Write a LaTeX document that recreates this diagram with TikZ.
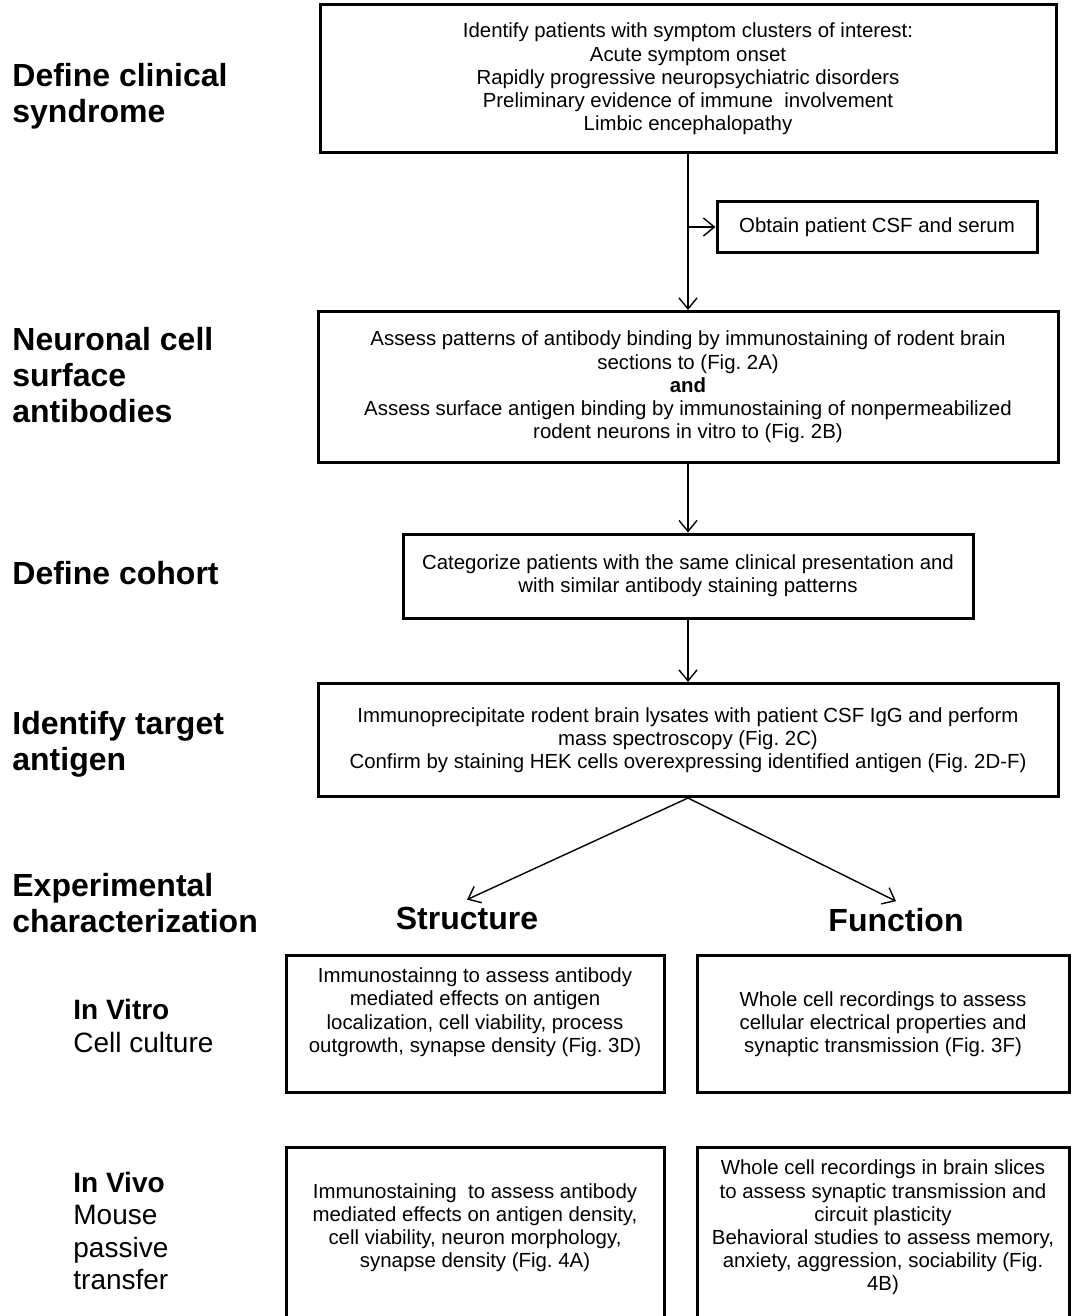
\documentclass[tikz,border=0pt]{standalone}
\usepackage{fontspec}
\setmainfont{Liberation Sans}
\frenchspacing
\usetikzlibrary{positioning,arrows.meta}
\tikzset{flow/.style={x=0.5pt,y=-0.5pt}}
\tikzset{stepbox/.style={draw,line width=1.5pt,align=center,inner sep=0pt,font=\fontsize{10.2}{11.6}\selectfont}}
\tikzset{stage/.style={anchor=west,align=left,inner sep=0pt,font=\fontsize{16}{18}\selectfont\bfseries}}
\tikzset{model/.style={anchor=west,align=left,inner sep=0pt,font=\fontsize{14}{16.2}\selectfont}}
\tikzset{branch/.style={font=\fontsize{16}{18}\selectfont\bfseries}}
\tikzset{link/.style={-{Straight Barb[length=5.5pt,width=9pt]},line width=0.7pt}}

\begin{document}
\begin{tikzpicture}[flow]
  \useasboundingbox (0,0) rectangle (1075,1316);
  \clip (0,0) rectangle (1075,1316);
  % stages on the left
  \node[stage] (lclin) at (12,96) {Define clinical\\syndrome};
  \node[stage] (lsurf) at (12,375) {Neuronal cell\\surface\\antibodies};
  \node[stage] (lcoh) at (12,573) {Define cohort};
  \node[stage] (ltgt) at (12,744) {Identify target\\antigen};
  \node[stage] (lexp) at (12,903) {Experimental\\characterization};
  \node[model] (lvit) at (73,1026) {\textbf{In Vitro}\\Cell culture};
  \node[model] (lviv) at (73,1231) {\textbf{In Vivo}\\Mouse\\passive\\transfer};
  % main column
  \node[stepbox,minimum width=368pt,minimum height=74pt] (clin) at (688,79)
    {Identify patients with symptom clusters of interest:\\Acute symptom onset\\Rapidly progressive neuropsychiatric disorders\\Preliminary evidence of immune\ \ involvement\\Limbic encephalopathy};
  \node[stepbox,minimum width=160pt,minimum height=25.5pt] (csf) at (877,227)
    {Obtain patient CSF and serum};
  \node[stepbox,minimum width=370pt,minimum height=75.5pt] (surf) at (688,387)
    {Assess patterns of antibody binding by immunostaining of rodent brain\\sections to (Fig. 2A)\\\textbf{and}\\Assess surface antigen binding by immunostaining of nonpermeabilized\\rodent neurons in vitro to (Fig. 2B)};
  \node[stepbox,minimum width=285pt,minimum height=42pt] (coh) at (688,576)
    {Categorize patients with the same clinical presentation and\\with similar antibody staining patterns};
  \node[stepbox,minimum width=370pt,minimum height=56.5pt] (tgt) at (688,740)
    {Immunoprecipitate rodent brain lysates with patient CSF IgG and perform\\mass spectroscopy (Fig. 2C)\\Confirm by staining HEK cells overexpressing identified antigen (Fig. 2D-F)};
  % structure / function
  \node[branch] (struc) at (467,918) {Structure};
  \node[branch] (func) at (896,920) {Function};
  \node[stepbox,minimum width=189pt,minimum height=68.5pt,text depth=14pt] (vits) at (475,1024)
    {Immunostainng to assess antibody\\mediated effects on antigen\\localization, cell viability, process\\outgrowth, synapse density (Fig. 3D)};
  \node[stepbox,minimum width=186pt,minimum height=68.5pt] (vitf) at (883,1024)
    {Whole cell recordings to assess\\cellular electrical properties and\\synaptic transmission (Fig. 3F)};
  \node[stepbox,anchor=north,minimum width=189pt,minimum height=100pt,text depth=22pt] (vivs) at (475,1146)
    {Immunostaining\ \ to assess antibody\\mediated effects on antigen density,\\cell viability, neuron morphology,\\synapse density (Fig. 4A)};
  \node[stepbox,anchor=north,minimum width=186pt,minimum height=100pt,text depth=22pt] (vivf) at (883,1146)
    {Whole cell recordings in brain slices\\to assess synaptic transmission and\\circuit plasticity\\Behavioral studies to assess memory,\\anxiety, aggression, sociability (Fig.\\4B)};
  % connectors
  \draw[link] (clin.south) -- (surf.north);
  \draw[link] (clin.south |- csf.west) -- (csf.west);
  \draw[link] (surf.south) -- (coh.north);
  \draw[link] (coh.south) -- (tgt.north);
  \draw[link] (tgt.south) -- (struc.north);
  \draw[link] (tgt.south) -- (func.north);
\end{tikzpicture}
\end{document}
